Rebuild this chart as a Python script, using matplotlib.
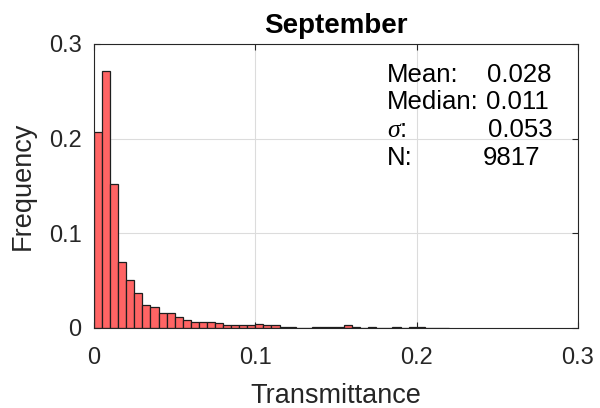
import numpy as np
import matplotlib
matplotlib.use("Agg")
import matplotlib.pyplot as plt

# histogram of transmittance, bins of 0.005 starting at 0
bin_width = 0.005
freq = [0.2067, 0.2715, 0.152, 0.070, 0.051, 0.037, 0.0246, 0.0218, 0.0162, 0.0162,
        0.0113, 0.0081, 0.0063, 0.0063, 0.0063, 0.005, 0.0035, 0.0035, 0.0028, 0.003,
        0.004, 0.003, 0.003, 0.0006, 0.0006, 0.0, 0.0, 0.0008, 0.0006, 0.0008,
        0.0006, 0.003, 0.0006, 0.0005, 0.0008, 0.0005, 0.0004, 0.0006, 0.0, 0.0006,
        0.0008, 0.0005, 0.0, 0.0005]
stat_names = ["Mean:", "Median:", r"$\sigma$:", "N:"]
stat_values = ["0.028", "0.011", "0.053", "9817"]

plt.rcParams['font.family'] = ['Liberation Sans', 'DejaVu Sans']
plt.rcParams['mathtext.fontset'] = 'custom'
plt.rcParams['mathtext.it'] = 'Liberation Serif:italic'

fg = '#262626'
fig = plt.figure(figsize=(6, 4.08), dpi=100)
ax = fig.add_axes([94 / 600, 80 / 408, 484 / 600, 284 / 408])

edges = np.arange(len(freq)) * bin_width
ax.bar(edges, freq, width=bin_width, align='edge', color='#ff6464',
       edgecolor='#1e1e1e', linewidth=0.9, zorder=3)

ax.set_xlim(0, 0.3)
ax.set_ylim(0, 0.3)
ax.set_xticks([0, 0.1, 0.2, 0.3])
ax.set_xticklabels(['0', '0.1', '0.2', '0.3'])
ax.set_yticks([0, 0.1, 0.2, 0.3])
ax.set_yticklabels(['0', '0.1', '0.2', '0.3'])
ax.grid(True, color='#dcdcdc', linewidth=0.8, zorder=0)
ax.tick_params(direction='in', top=True, right=True, length=4, width=0.8,
               colors=fg, labelsize=17, pad=9)
ax.tick_params(axis='x', pad=14)
for s in ax.spines.values():
    s.set_color(fg)
    s.set_linewidth(0.8)
    s.set_zorder(4)

ax.set_xlabel('Transmittance', fontsize=19.5, color=fg, labelpad=10)
ax.set_ylabel('Frequency', fontsize=19.5, color=fg, labelpad=9)
ax.set_title('September', fontsize=20, fontweight='bold', color='black', pad=8)

# summary statistics block
value_x = [486.7, 486, 488, 483]
for i, (name, val) in enumerate(zip(stat_names, stat_values)):
    y = 1 - (81.7 + 27.7 * i - 44) / 284
    ax.text((387 - 94) / 484, y, name, transform=ax.transAxes, fontsize=18.5,
            va='baseline', ha='left', color='black', zorder=5)
    ax.text((value_x[i] - 94) / 484, y, val, transform=ax.transAxes, fontsize=18.5,
            va='baseline', ha='left', color='black', zorder=5)

fig.savefig('out.png', dpi=100, facecolor='white')
